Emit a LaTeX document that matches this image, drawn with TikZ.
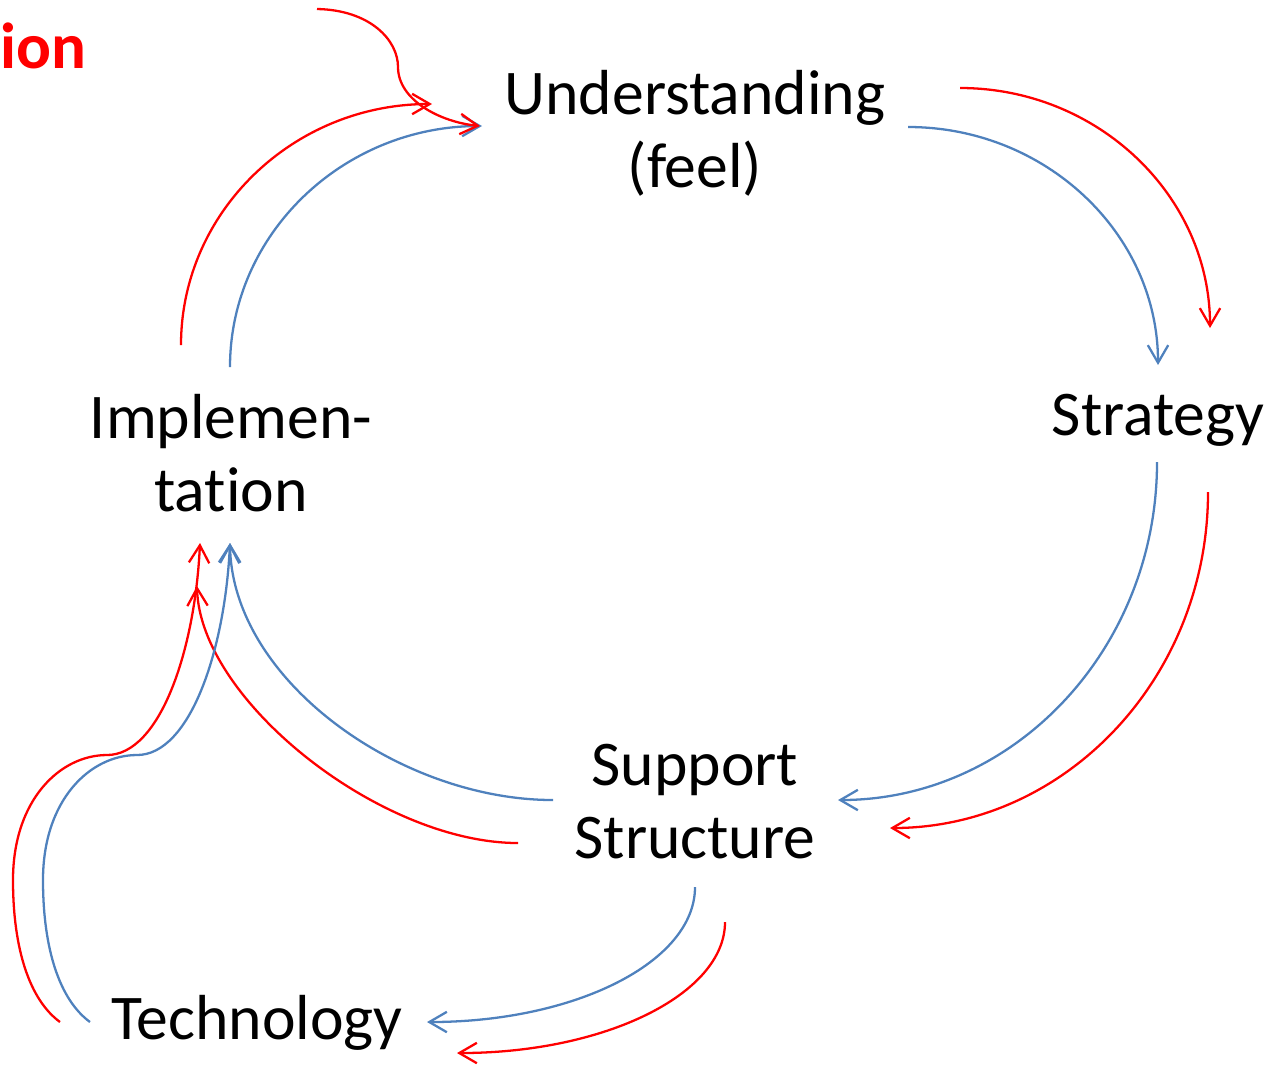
\documentclass[tikz,border=0pt]{standalone}
\usepackage{fontspec}
\setmainfont{Carlito}[Ligatures=NoCommon]
\usetikzlibrary{arrows.meta,calc}
\definecolor{cblue}{HTML}{4F81BD}
\definecolor{cred}{HTML}{FF0000}
\tikzset{
  lbl/.style={anchor=base, inner sep=0pt, font=\fontsize{18.1}{21}\selectfont},
  conn/.style={line width=0.65pt, -{Straight Barb[length=5pt,width=5.8pt]}},
  bluec/.style={conn, draw=cblue},
  redc/.style={conn, draw=cred},
}
\newcommand{\twoline}[2]{\begin{tabular}[t]{@{}c@{}}#1\\#2\end{tabular}}
\begin{document}
\begin{tikzpicture}[x=0.01cm,y=-0.01cm]
\useasboundingbox (0,0) rectangle (1268,1066);
\node[lbl] (und) at (695,114) {\twoline{Understanding}{(feel)}};
\node[lbl] (str) at (1158,435) {Strategy};
\node[lbl] (imp) at (231,438) {\twoline{Implemen-}{tation}};
\node[lbl] (sup) at (695,785) {\twoline{Support}{Structure}};
\node[lbl] (tec) at (257,1039) {Technology};
\node[anchor=base west, inner sep=0pt, text=cred, font=\bfseries\fontsize{18.5}{24}\selectfont] (ion) at (0,68) {ion};
\coordinate (src) at (317,9);

\draw[bluec] ($(und.base)+(213,13)$) .. controls (1046,127) and (1158,234) .. ($(str.base)+(0,-70)$);
\draw[redc] ($(und.base)+(265,-26)$) .. controls (1098,88) and (1210,196) .. ($(str.base)+(52,-107)$);
\draw[bluec] ($(str.base)+(-1,27)$) .. controls (1157,649) and (1014,800) .. ($(sup.base)+(143,15)$);
\draw[redc] ($(str.base)+(50,57)$) .. controls (1208,678) and (1065,828) .. ($(sup.base)+(195,43)$);
\draw[bluec] ($(sup.base)+(-142,15)$) .. controls (400,800) and (232,680) .. ($(imp.base)+(-1,105)$);
\draw[redc] ($(sup.base)+(-177,58)$) .. controls (380,843) and (200,700) .. ($(imp.base)+(-34,148)$);
\draw[bluec] ($(imp.base)+(-1,-71)$) .. controls (230,234) and (343,126) .. ($(und.base)+(-213,12)$);
\draw[redc] ($(imp.base)+(-50,-93)$) .. controls (181,212) and (293,104) .. ($(und.base)+(-263,-10)$);
\draw[bluec] ($(sup.base)+(0,102)$) .. controls (695,962) and (575,1022) .. ($(tec.base)+(170,-17)$);
\draw[redc] ($(sup.base)+(30,137)$) .. controls (725,994) and (605,1053) .. ($(tec.base)+(200,14)$);
\draw[bluec] ($(tec.base)+(-167,-17)$) .. controls (60,1000) and (43,950) .. (43,880) .. controls (43,800) and (90,755) .. (137,755) .. controls (190,755) and (225,650) .. ($(imp.base)+(-1,105)$);
\draw[redc] ($(tec.base)+(-197,-17)$) .. controls (30,1000) and (13,950) .. (13,880) .. controls (13,800) and (60,755) .. (107,755) .. controls (160,755) and (195,650) .. ($(imp.base)+(-31,105)$);
\draw[redc] (src) .. controls (370,10) and (398,40) .. (398,67) .. controls (398,100) and (440,122) .. ($(und.base)+(-215,12)$);
\end{tikzpicture}
\end{document}
